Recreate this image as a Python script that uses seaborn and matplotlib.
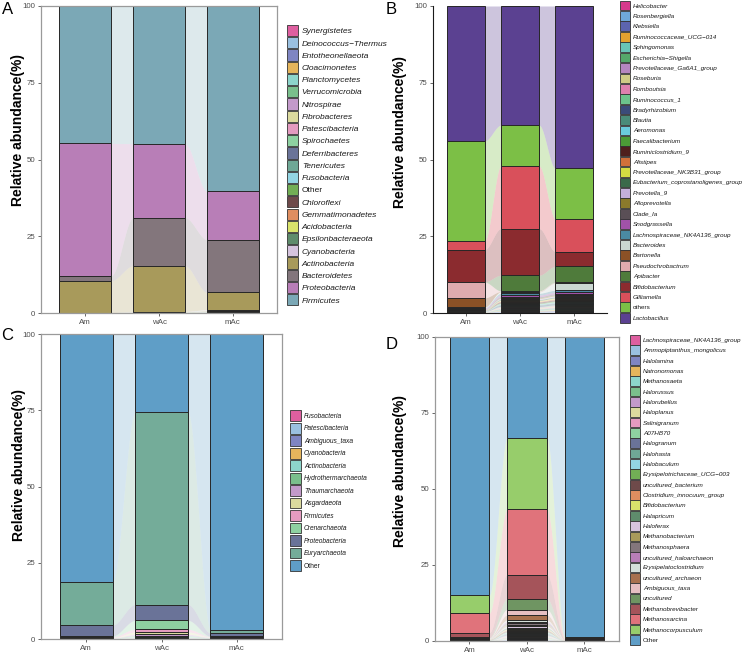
import numpy as np
import pandas as pd
import matplotlib
matplotlib.use('Agg')
import matplotlib.pyplot as plt
from matplotlib.patches import Patch
import seaborn as sns

groups = ['Am', 'wAc', 'mAc']

# ---- panel A (phylum, 16S) : every list runs from the bottom of the stack to the top
phylum_a = ['Synergistetes', 'Deinococcus\u2212Thermus', 'Entotheonellaeota', 'Cloacimonetes',
            'Planctomycetes', 'Verrucomicrobia', 'Nitrospirae', 'Fibrobacteres', 'Patescibacteria',
            'Spirochaetes', 'Deferribacteres', 'Tenericutes', 'Fusobacteria', 'Other', 'Chloroflexi',
            'Gemmatimonadetes', 'Acidobacteria', 'Epsilonbacteraeota', 'Cyanobacteria',
            'Actinobacteria', 'Bacteroidetes', 'Proteobacteria', 'Firmicutes']
phylum_a_am = [0.00, 0.00, 0.00, 0.00, 0.00, 0.00, 0.00, 0.00, 0.00, 0.01, 0.00, 0.01, 0.01,
               0.01, 0.01, 0.01, 0.01, 0.02, 0.03, 10.40, 1.60, 43.10, 44.78]
phylum_a_wac = [0.01, 0.01, 0.01, 0.01, 0.01, 0.01, 0.01, 0.01, 0.02, 0.02, 0.02, 0.02, 0.02,
                0.03, 0.03, 0.03, 0.04, 0.08, 0.10, 14.90, 15.70, 24.10, 44.81]
phylum_a_mac = [0.02, 0.02, 0.02, 0.02, 0.03, 0.03, 0.03, 0.03, 0.04, 0.04, 0.04, 0.05, 0.05,
                0.06, 0.06, 0.07, 0.08, 0.12, 0.25, 5.65, 17.20, 15.70, 60.40]
phylum_a_colors = ['#DE5FA0', '#9AC0E0', '#7F85C2', '#E5B55C', '#8DD5CB', '#7ABF8C', '#C39ACA',
                   '#DBDA9E', '#E49BC0', '#8ED1A1', '#6A7398', '#6FA896', '#93D5E3', '#72AE55',
                   '#6E4A4A', '#DF8E60', '#D9E36B', '#5F8C6C', '#D6C4DE', '#A89A5B', '#83767C',
                   '#B87EB7', '#7BA8B6']

# ---- panel B (genus, 16S)
genus_b = ['Helicobacter', 'Rosenbergiella', 'Klebsiella', 'Ruminococcaceae_UCG\u2212014',
           'Sphingomonas', 'Escherichia\u2212Shigella', 'Prevotellaceae_Ga6A1_group', 'Roseburia',
           'Romboutsia', 'Ruminococcus_1', 'Bradyrhizobium', 'Blautia', 'Aeromonas',
           'Faecalibacterium', 'Ruminiclostridium_9', 'Alistipes', 'Prevotellaceae_NK3B31_group',
           'Eubacterium_coprostanoligenes_group', 'Prevotella_9', 'Alloprevotella', 'Clade_Ia',
           'Snodgrassella', 'Lachnospiraceae_NK4A136_group', 'Bacteroides', 'Bartonella',
           'Pseudochrobactrum', 'Apibacter', 'Bifidobacterium', 'Gilliamella', 'others',
           'Lactobacillus']
genus_b_am = [0.05, 0.05, 0.05, 0.05, 0.05, 0.05, 0.05, 0.05, 0.05, 0.05, 0.10, 0.05, 0.05,
              0.05, 0.10, 0.05, 0.05, 0.10, 0.05, 0.05, 0.10, 0.35, 0.15, 0.20, 3.00, 5.10,
              0.10, 10.50, 2.80, 32.60, 43.95]
genus_b_wac = [0.20, 0.25, 0.20, 0.20, 0.20, 0.25, 0.20, 0.25, 0.20, 0.20, 0.40, 0.25, 0.20,
               0.25, 0.40, 0.25, 0.20, 0.35, 0.25, 0.25, 0.40, 0.50, 0.60, 0.45, 0.10, 0.20,
               5.10, 15.20, 20.40, 13.30, 38.80]
genus_b_mac = [0.25, 0.30, 0.25, 0.30, 0.25, 0.30, 0.25, 0.30, 0.25, 0.25, 0.35, 0.30, 0.25,
               0.30, 0.35, 0.30, 0.30, 0.35, 0.30, 0.35, 0.40, 0.45, 0.70, 2.40, 0.10, 0.10,
               5.20, 4.80, 10.60, 16.50, 52.90]
genus_b_colors = ['#D6398C', '#6FA8D8', '#5C64AE', '#E3A12F', '#68C4B6', '#55A86A', '#B586C0',
                  '#CFCB86', '#DE80AE', '#6CC38C', '#3B4B7A', '#4A8C7A', '#6ACCDD', '#4B9B36',
                  '#4F201D', '#D1703A', '#D5DC42', '#3B6A4A', '#C5AFD9', '#8A7A2B', '#5A4F56',
                  '#A152A8', '#4A8AA2', '#CAD7D1', '#8B5126', '#DEABAF', '#4F7B3B', '#8B2B2F',
                  '#D9505B', '#7CBF46', '#5B4191']

# ---- panel C (phylum, archaea)
phylum_c = ['Fusobacteria', 'Patescibacteria', 'Ambiguous_taxa', 'Cyanobacteria',
            'Actinobacteria', 'Hydrothermarchaeota', 'Thaumarchaeota', 'Asgardaeota',
            'Firmicutes', 'Crenarchaeota', 'Proteobacteria', 'Euryarchaeota', 'Other']
phylum_c_am = [0.05, 0.05, 0.05, 0.05, 0.05, 0.05, 0.05, 0.05, 0.30, 0.30, 3.60, 14.20, 81.20]
phylum_c_wac = [0.10, 0.10, 0.15, 0.10, 0.25, 0.40, 0.45, 0.75, 0.90, 2.90, 5.20, 63.00, 25.70]
phylum_c_mac = [0.05, 0.05, 0.10, 0.05, 0.10, 0.10, 0.10, 0.10, 0.15, 0.10, 1.10, 1.00, 97.00]
phylum_c_colors = ['#DE5FA0', '#9AC0E0', '#7F85C2', '#E5B55C', '#8DD5CB', '#7ABF8C', '#C39ACA',
                   '#DBDA9E', '#E49BC0', '#8ED1A1', '#6A7398', '#74AC99', '#5F9EC7']

# ---- panel D (genus, archaea)
genus_d = ['Lachnospiraceae_NK4A136_group', 'Ammopiptanthus_mongolicus', 'Halolamina',
           'Natronomonas', 'Methanosaeta', 'Halorussus', 'Halorubellus', 'Haloplanus',
           'Salinigranum', 'A07HB70', 'Halogranum', 'Halohasta', 'Halobaculum',
           'Erysipelotrichaceae_UCG\u2212003', 'uncultured_bacterium', 'Clostridium_innocuum_group',
           'Bifidobacterium', 'Halapricum', 'Haloferax', 'Methanobacterium', 'Methanosphaera',
           'uncultured_haloarchaeon', 'Erysipelatoclostridium', 'uncultured_archaeon',
           'Ambiguous_taxa', 'uncultured', 'Methanobrevibacter', 'Methanosarcina',
           'Methanocorpusculum', 'Other']
genus_d_am = [0.02, 0.02, 0.02, 0.02, 0.02, 0.02, 0.02, 0.02, 0.02, 0.02, 0.02, 0.02, 0.02,
              0.10, 0.20, 0.05, 0.05, 0.05, 0.05, 0.05, 0.05, 0.05, 0.05, 0.05, 0.05, 0.10,
              1.60, 6.40, 5.90, 84.94]
genus_d_wac = [0.15, 0.20, 0.15, 0.20, 0.20, 0.20, 0.20, 0.20, 0.20, 0.20, 0.35, 0.30, 0.20,
               0.25, 0.35, 0.25, 0.25, 0.45, 0.50, 0.55, 0.55, 0.50, 0.45, 1.70, 1.80, 3.60,
               7.90, 21.40, 23.50, 33.25]
genus_d_mac = [0.01, 0.01, 0.01, 0.01, 0.01, 0.01, 0.01, 0.01, 0.01, 0.01, 0.01, 0.01, 0.01,
               0.02, 0.02, 0.02, 0.02, 0.02, 0.02, 0.02, 0.02, 0.02, 0.02, 0.03, 0.03, 0.05,
               0.15, 0.40, 0.40, 98.61]
genus_d_colors = ['#DE5FA0', '#9AC0E0', '#7F85C2', '#E5B55C', '#8DD5CB', '#7ABF8C', '#C39ACA',
                  '#DBDA9E', '#E49BC0', '#8ED1A1', '#6A7398', '#6FA896', '#93D5E3', '#72AE55',
                  '#6E4A4A', '#DF8E60', '#D9E36B', '#5F8C6C', '#D6C4DE', '#A89A5B', '#83767C',
                  '#B87EB7', '#D5E0DB', '#A8714F', '#E6BFC2', '#6F9562', '#A5545A', '#E0737B',
                  '#97CD6B', '#5F9EC7']


sns.set_theme(style='ticks')
plt.rcParams['font.family'] = ['Liberation Sans', 'DejaVu Sans']

TICK_GREY = '#4D4D4D'


def alluvial_bars(ax, taxa, am, wac, mac, colors, bar_width=0.7, flow_alpha=0.25):
    """Stacked bars with ribbons joining each stratum between neighbouring bars."""
    df = pd.DataFrame({'Am': am, 'wAc': wac, 'mAc': mac}, index=taxa)
    tops = df.cumsum()
    bottoms = tops - df

    # ribbons (drawn first so that the bars sit on top of them)
    t = np.linspace(0, 1, 60)
    ease = t * t * (3 - 2 * t)
    for i in range(len(groups) - 1):
        g0, g1 = groups[i], groups[i + 1]
        xs = i + bar_width / 2 + t * (1 - bar_width)
        for taxon, col in zip(taxa, colors):
            lo = bottoms.at[taxon, g0] + (bottoms.at[taxon, g1] - bottoms.at[taxon, g0]) * ease
            hi = tops.at[taxon, g0] + (tops.at[taxon, g1] - tops.at[taxon, g0]) * ease
            ax.fill_between(xs, lo, hi, color=col, alpha=flow_alpha, lw=0, zorder=0)

    # stacked bars: cumulative totals drawn from the top down, each one covering the last
    for taxon, col in reversed(list(zip(taxa, colors))):
        sns.barplot(x=groups, y=tops.loc[taxon].values, color=col, saturation=1,
                    width=bar_width, edgecolor='#262626', linewidth=0.7,
                    errorbar=None, ax=ax, zorder=2)

    ax.set_xlim(-0.6, 2.6)
    ax.set_ylim(0, 100)
    ax.set_yticks([0, 25, 50, 75, 100])
    ax.set_xlabel('')
    ax.set_ylabel('Relative abundance(%)', fontsize=10, fontweight='bold', color='black')
    ax.tick_params(axis='both', length=2.5, width=0.6, color=TICK_GREY,
                   labelsize=5.7, labelcolor=TICK_GREY, pad=1.5)


def boxed(ax):
    for side in ['left', 'right', 'top', 'bottom']:
        ax.spines[side].set_visible(True)
        ax.spines[side].set_color('#9A9A9A')
        ax.spines[side].set_linewidth(0.9)
        ax.spines[side].set_zorder(5)


def classic(ax):
    ax.spines['right'].set_visible(False)
    ax.spines['top'].set_visible(False)
    for side in ['left', 'bottom']:
        ax.spines[side].set_color('#1A1A1A')
        ax.spines[side].set_linewidth(0.8)


def taxa_legend(fig, taxa, colors, anchor, fs, key_len, key_h, spacing):
    handles = [Patch(facecolor=c, edgecolor='#333333', linewidth=0.6, label=t)
               for t, c in zip(taxa, colors)]
    leg = fig.legend(handles=handles, loc='upper left', bbox_to_anchor=anchor,
                     frameon=False, fontsize=fs, handlelength=key_len, handleheight=key_h,
                     labelspacing=spacing, handletextpad=0.45, borderpad=0,
                     borderaxespad=0)
    for txt in leg.get_texts():
        if txt.get_text() not in ('Other', 'others'):
            txt.set_fontstyle('italic')
        txt.set_color('#1A1A1A')
    return leg


fig = plt.figure(figsize=(7.5, 6.52), dpi=100)

ax_a = fig.add_axes([0.0547, 0.5199, 0.3147, 0.4709])
ax_b = fig.add_axes([0.5773, 0.5199, 0.2320, 0.4709])
ax_c = fig.add_axes([0.0547, 0.0199, 0.3213, 0.4678])
ax_d = fig.add_axes([0.5800, 0.0169, 0.2453, 0.4663])

alluvial_bars(ax_a, phylum_a, phylum_a_am, phylum_a_wac, phylum_a_mac, phylum_a_colors)
alluvial_bars(ax_b, genus_b, genus_b_am, genus_b_wac, genus_b_mac, genus_b_colors, flow_alpha=0.3)
alluvial_bars(ax_c, phylum_c, phylum_c_am, phylum_c_wac, phylum_c_mac, phylum_c_colors)
alluvial_bars(ax_d, genus_d, genus_d_am, genus_d_wac, genus_d_mac, genus_d_colors, bar_width=0.69)

boxed(ax_a)
classic(ax_b)
boxed(ax_c)
boxed(ax_d)

ax_a.yaxis.set_label_coords(-0.066, 0.596)
ax_b.yaxis.set_label_coords(-0.150, 0.590)
ax_c.yaxis.set_label_coords(-0.064, 0.570)
ax_d.yaxis.set_label_coords(-0.150, 0.560)

taxa_legend(fig, phylum_a, phylum_a_colors, (0.3827, 0.9617), 6.0, 1.32, 1.69, 0.125)
taxa_legend(fig, genus_b, genus_b_colors, (0.8267, 0.9990), 4.6, 1.56, 1.96, 0.11)
taxa_legend(fig, phylum_c, phylum_c_colors, (0.3867, 0.3704), 4.8, 1.65, 2.10, 0.26)
taxa_legend(fig, genus_d, genus_d_colors, (0.8400, 0.4862), 4.6, 1.56, 1.96, 0.10)

for letter, x, y in [('A', 0.002, 0.997), ('B', 0.514, 0.997), ('C', 0.002, 0.497), ('D', 0.514, 0.483)]:
    fig.text(x, y, letter, fontsize=12, ha='left', va='top', color='black')

fig.savefig('out.png', dpi=100)
